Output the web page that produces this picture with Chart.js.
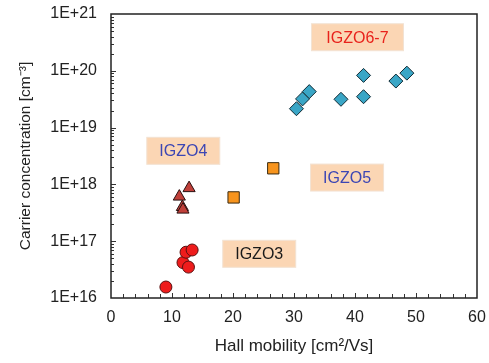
<!DOCTYPE html>
<html>
<head>
<meta charset="utf-8">
<script src="https://cdn.jsdelivr.net/npm/chart.js@4.4.1/dist/chart.umd.min.js"></script>
<style>
  html, body { margin: 0; padding: 0; background: #fff; }
  #wrap { width: 489px; height: 363px; }
</style>
</head>
<body>
<div id="wrap"><canvas id="chart"></canvas></div>
<script>
// Data: Hall mobility (cm2/Vs) vs carrier concentration (cm-3)
const igzo3Mobility = [9.0, 11.8, 12.3, 12.7, 13.3];
const igzo3Carrier  = [1.56e16, 4.2e16, 6.4e16, 3.5e16, 7.0e16];

const igzo4Mobility = [11.2, 11.7, 11.8, 12.8];
const igzo4Carrier  = [6.1e17, 4.0e17, 3.6e17, 8.6e17];

const igzo5Mobility = [20.1, 26.6];
const igzo5Carrier  = [5.9e17, 1.92e18];

const igzo67Mobility = [30.4, 31.4, 32.5, 37.7, 41.4, 41.4, 46.7, 48.5];
const igzo67Carrier  = [2.15e19, 3.2e19, 4.3e19, 3.15e19, 8.3e19, 3.5e19, 6.6e19, 9.1e19];

const yDecades = [16, 17, 18, 19, 20, 21];

// Text boxes on the chart (centre in data units)
const boxLabels = ['IGZO6-7', 'IGZO4', 'IGZO5', 'IGZO3'];
const boxX = [40.4, 11.85, 38.7, 24.3];
const boxY = [3.9e20, 3.9e18, 1.32e18, 6.0e16];
const boxColors = ['#e8231c', '#3c46b4', '#3c46b4', '#1a1a1a'];

function pts(xs, ys) {
    return xs.map((x, i) => ({ x: x, y: ys[i] }));
}

// Frame, inward ticks and text boxes
const decorPlugin = {
    id: 'decor',
    afterDraw(chart) {
        const ctx = chart.ctx;
        const a = chart.chartArea;
        const xs = chart.scales.x;
        const ys = chart.scales.y;
        ctx.save();
        ctx.strokeStyle = '#333';
        ctx.lineWidth = 1;
        // x ticks every 2
        for (let v = 2; v < 60; v += 2) {
            const px = Math.round(xs.getPixelForValue(v)) + 0.5;
            ctx.beginPath();
            ctx.moveTo(px, a.bottom);
            ctx.lineTo(px, a.bottom - (v % 10 === 0 ? 5 : 4));
            ctx.stroke();
        }
        // y log ticks
        for (let e = 16; e < 21; e++) {
            for (let m = 1; m <= 9; m++) {
                const v = m * Math.pow(10, e);
                const py = Math.round(ys.getPixelForValue(v)) + 0.5;
                if (py <= a.top + 1 || py >= a.bottom - 1) continue;
                ctx.beginPath();
                ctx.moveTo(a.left, py);
                ctx.lineTo(a.left + (m === 1 ? 5 : 3), py);
                ctx.stroke();
            }
        }
        // frame
        ctx.strokeStyle = '#222';
        ctx.lineWidth = 1.5;
        ctx.strokeRect(a.left, a.top, a.right - a.left, a.bottom - a.top);

        // label boxes
        ctx.font = '16px "Liberation Sans", Arial, sans-serif';
        ctx.textAlign = 'center';
        ctx.textBaseline = 'middle';
        boxLabels.forEach((t, i) => {
            const cx = xs.getPixelForValue(boxX[i]);
            const cy = ys.getPixelForValue(boxY[i]);
            const w = t.length > 5 ? 92 : 73;
            const h = 27;
            ctx.fillStyle = '#fbd6b4';
            ctx.fillRect(cx - w / 2, cy - h / 2, w, h);
            ctx.strokeStyle = '#f3e3d3';
            ctx.lineWidth = 1;
            ctx.strokeRect(cx - w / 2, cy - h / 2, w, h);
            ctx.fillStyle = boxColors[i];
            ctx.fillText(t, cx, cy + 1);
        });
        ctx.restore();
    }
};

const tickFont = { family: '"Liberation Sans", Arial, sans-serif', size: 16 };

new Chart(document.getElementById('chart').getContext('2d'), {
    type: 'scatter',
    data: {
        datasets: [
            { label: 'IGZO3', data: pts(igzo3Mobility, igzo3Carrier), pointStyle: 'circle', pointRadius: 6,
              backgroundColor: '#ee1c1c', borderColor: '#5a1010', borderWidth: 1 },
            { label: 'IGZO4', data: pts(igzo4Mobility, igzo4Carrier), pointStyle: 'triangle', pointRadius: 7,
              backgroundColor: '#c0403a', borderColor: '#2a1010', borderWidth: 1 },
            { label: 'IGZO5', data: pts(igzo5Mobility, igzo5Carrier), pointStyle: 'rect', pointRadius: 8,
              backgroundColor: '#f7941d', borderColor: '#3a2a10', borderWidth: 1 },
            { label: 'IGZO6-7', data: pts(igzo67Mobility, igzo67Carrier), pointStyle: 'rectRot', pointRadius: 7,
              backgroundColor: '#3aa6c6', borderColor: '#102a34', borderWidth: 1 }
        ]
    },
    options: {
        responsive: true,
        maintainAspectRatio: false,
        animation: false,
        layout: { padding: { top: 14, right: 12, left: 0, bottom: 0 } },
        plugins: { legend: { display: false }, tooltip: { enabled: false } },
        scales: {
            x: {
                type: 'linear', min: 0, max: 60,
                ticks: { stepSize: 10, color: '#222', font: tickFont, padding: 10 },
                grid: { display: false, drawTicks: false },
                border: { display: false },
                title: { display: true, text: 'Hall mobility [cm\u00b2/Vs]', color: '#222',
                         font: { family: tickFont.family, size: 17 }, padding: { top: 3, bottom: 6 } },
                afterFit(scale) {
                    scale.height = 65;
                    scale.paddingLeft = 0;
                    scale.paddingRight = 0;
                }
            },
            y: {
                type: 'logarithmic', min: 1e16, max: 1e21,
                afterBuildTicks(scale) { scale.ticks = yDecades.map(e => ({ value: Math.pow(10, e) })); },
                ticks: {
                    color: '#222', font: tickFont, padding: 14, autoSkip: false,
                    callback: (v) => '1E+' + Math.round(Math.log10(v))
                },
                grid: { display: false, drawTicks: false },
                border: { display: false },
                title: { display: true, text: 'Carrier concentration [cm\u207b\u00b3]', color: '#222',
                         font: { family: tickFont.family, size: 15.5 }, padding: { top: 16, bottom: 0 } },
                afterFit(scale) {
                    scale.width = 111;
                    scale.paddingTop = 0;
                    scale.paddingBottom = 0;
                }
            }
        }
    },
    plugins: [decorPlugin]
});
</script>
</body>
</html>
